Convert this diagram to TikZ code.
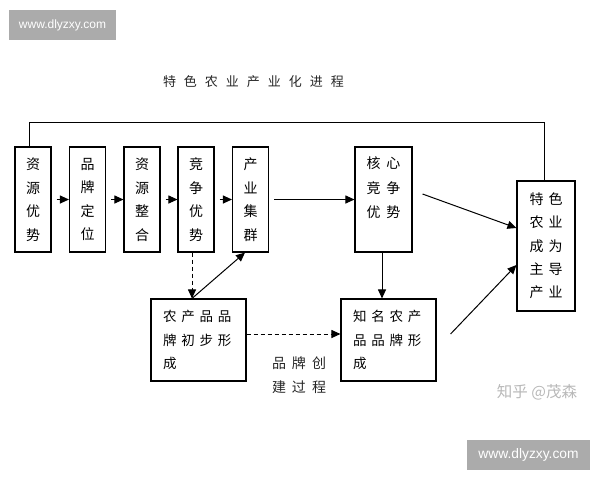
\documentclass[tikz,border=0pt]{standalone}
\usepackage{fontspec}
\setmainfont{Liberation Sans}
\newfontfamily\cjk{Noto Sans CJK SC}
\usetikzlibrary{arrows.meta}
\newlength\cgapl
\newcommand\cg{\hspace{\cgapl}}
\tikzset{
  box/.style={draw, line width=1.1pt, inner sep=0pt, align=center,
    font={\cjk\fontsize{14}{23.5}\selectfont}},
  arr/.style={line width=1pt, -{Triangle[length=9pt,width=8pt]}},
  plain/.style={line width=1pt},
  dsh/.style={dash pattern=on 4pt off 3pt},
  wm/.style={fill=black!33, text=white, inner sep=0pt},
}
\begin{document}
\begin{tikzpicture}[x=1pt,y=-1pt]
\useasboundingbox (0,0) rectangle (600,480);
% watermarks
\node[wm, minimum width=107pt, minimum height=30pt, font=\fontsize{12}{14}\selectfont] (wm1) at (62.5,25) {www.dlyzxy.com};
\node[wm, minimum width=123pt, minimum height=30pt, font=\fontsize{13.8}{16}\selectfont] (wm2) at (528.5,455) {www.dlyzxy.com};
\node[text=black!28, font={\cjk\fontsize{15.5}{18}\selectfont}] (zh) at (537,392) {知乎 @茂森};
% title
\node[text=black!85, font={\cjk\fontsize{13}{15}\selectfont\setlength{\cgapl}{8pt}}] (title) at (253.5,82)
  {特\cg 色\cg 农\cg 业\cg 产\cg 业\cg 化\cg 进\cg 程};
% top row
\node[box, minimum width=36pt, minimum height=105pt] (b1) at (33,199.5) {资\\源\\优\\势};
\node[box, minimum width=36pt, minimum height=105pt] (b2) at (87.5,199.5) {品\\牌\\定\\位};
\node[box, minimum width=36pt, minimum height=105pt] (b3) at (142,199.5) {资\\源\\整\\合};
\node[box, minimum width=36pt, minimum height=105pt] (b4) at (196,199.5) {竞\\争\\优\\势};
\node[box, minimum width=36pt, minimum height=105pt] (b5) at (250.5,199.5) {产\\业\\集\\群};
\node[box, minimum width=57pt, minimum height=105pt,
  font={\cjk\fontsize{14}{24.5}\selectfont\setlength{\cgapl}{6pt}}] (core) at (383.5,199.5)
  {核\cg 心\\竞\cg 争\\优\cg 势\\\mbox{}};
\node[box, minimum width=58pt, minimum height=130pt,
  font={\cjk\fontsize{14}{23.3}\selectfont\setlength{\cgapl}{5pt}}] (fin) at (546,246)
  {特\cg 色\\农\cg 业\\成\cg 为\\主\cg 导\\产\cg 业};
% lower boxes
\node[box, minimum width=95pt, minimum height=82pt, text width=71pt, align=left,
  font={\cjk\fontsize{13.5}{23.5}\selectfont\setlength{\cgapl}{4.8pt}}] (farm) at (198.5,340)
  {农\cg 产\cg 品\cg 品\\牌\cg 初\cg 步\cg 形\\成};
\node[box, minimum width=95pt, minimum height=82pt, text width=71pt, align=left,
  font={\cjk\fontsize{13.5}{23.5}\selectfont\setlength{\cgapl}{4.8pt}}] (knew) at (388.5,340)
  {知\cg 名\cg 农\cg 产\\品\cg 品\cg 牌\cg 形\\成};
\node[align=center, text=black!85, font={\cjk\fontsize{14}{24}\selectfont\setlength{\cgapl}{6pt}}] (lbl) at (299,375)
  {品\cg 牌\cg 创\\建\cg 过\cg 程};
% connectors
\draw[arr, shorten <=5pt] (b1.east) -- (b2.west);
\draw[arr, shorten <=5pt] (b2.east) -- (b3.west);
\draw[arr, shorten <=5pt] (b3.east) -- (b4.west);
\draw[arr, shorten <=5pt] (b4.east) -- (b5.west);
\draw[arr, shorten <=5pt] (b5.east) -- (core.west);
\draw[plain] ([xshift=-4pt]b1.north) -- ++(0,-24) -| ([xshift=-2pt]fin.north);
\draw[arr] ([xshift=10pt,yshift=5.5pt]core.east) -- ([yshift=18pt]fin.west);
\draw[arr] ([xshift=14pt,yshift=6pt]knew.east) -- ([yshift=-19pt]fin.west);
\draw[arr] ([xshift=-1.5pt]core.south) -- ([xshift=-1.5pt]core.south |- knew.north);
\draw[arr, dsh] ([xshift=-4pt]b4.south) -- ([xshift=-4pt]b4.south |- farm.north);
\draw[arr] ([xshift=-6.5pt]farm.north) -- ([xshift=-5.5pt]b5.south);
\draw[arr, dsh] ([yshift=6pt]farm.east) -- ([yshift=6pt]knew.west);
\end{tikzpicture}
\end{document}
